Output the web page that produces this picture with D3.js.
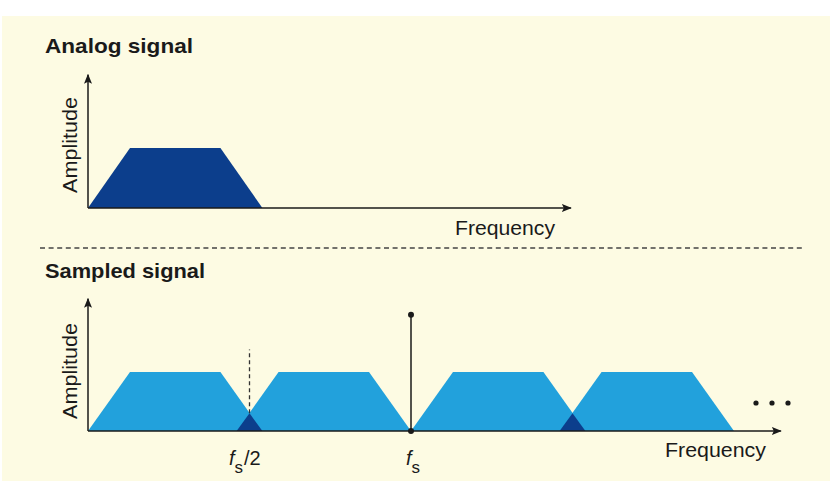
<!DOCTYPE html>
<html lang="en">
<head>
<meta charset="UTF-8">
<title>Analog vs sampled signal spectrum</title>
<script src="https://d3js.org/d3.v7.min.js"></script>
<style>
  body { margin: 0; background: #fff; }
  text { font-family: "Liberation Sans", Arial, sans-serif; fill: #1a1a1a; }
  .title { font-weight: bold; font-size: 21px; }
  .lbl { font-size: 20px; }
  .sym { font-size: 20px; font-style: italic; }
</style>
</head>
<body>
<script>
// spectrum of the analog signal, frequency in units of fs, amplitude 0..1
const baseFreq = [0, 0.13, 0.41, 0.54]
const baseAmp  = [0, 1, 1, 0]

// spectral copies of the sampled signal (band corners, in units of fs)
const imageFreqs = [
  [0, 0.13, 0.41, 0.54],
  [0.46, 0.59, 0.87, 1.0],
  [1.0, 1.13, 1.41, 1.54],
  [1.46, 1.59, 1.87, 2.0]
]
const imageAmp = [0, 1, 1, 0]

// aliasing overlaps: [left, centre, right] and peak amplitude
const aliasFreqs = [[0.46, 0.5, 0.54], [1.46, 1.5, 1.54]]
const aliasPeak = 0.3

const sampleRate = 1      // fs
const stemHeight = 1.97   // height of the fs impulse

const W = 830, H = 481
const svg = d3.select("body").append("svg")
    .attr("width", W).attr("height", H)

// paper
svg.append("rect").attr("x", 2).attr("y", 16).attr("width", W - 2).attr("height", H - 16)
    .attr("fill", "#fdfbe3")

const defs = svg.append("defs")
defs.append("marker")
    .attr("id", "arrow")
    .attr("viewBox", "0 0 10 8")
    .attr("refX", 9).attr("refY", 4)
    .attr("markerWidth", 10).attr("markerHeight", 8)
    .attr("markerUnits", "userSpaceOnUse")
    .attr("orient", "auto")
  .append("path")
    .attr("d", "M0,0 L10,4 L0,8 L2,4 Z")
    .attr("fill", "#1a1a1a")

const x = d3.scaleLinear().domain([0, 1]).range([88, 411])
const yTop = d3.scaleLinear().domain([0, 1]).range([208, 148])
const yBot = d3.scaleLinear().domain([0, 1]).range([431, 372])

const area = (ys) => d3.line().x(d => x(d[0])).y(d => ys(d[1]))

// ---------- analog panel ----------
svg.append("text").attr("class", "title")
    .attr("x", 45).attr("y", 53)
    .attr("textLength", 148).attr("lengthAdjust", "spacingAndGlyphs")
    .text("Analog signal")

svg.append("path")
    .datum(d3.zip(baseFreq, baseAmp))
    .attr("d", d => area(yTop)(d) + "Z")
    .attr("fill", "#0c3e8c")

function axes(ys, xEnd, yEnd) {
  svg.append("line")
      .attr("x1", x(0)).attr("y1", ys(0)).attr("x2", x(xEnd)).attr("y2", ys(0))
      .attr("stroke", "#1a1a1a").attr("stroke-width", 1.5)
      .attr("marker-end", "url(#arrow)")
  svg.append("line")
      .attr("x1", x(0)).attr("y1", ys(0)).attr("x2", x(0)).attr("y2", ys(yEnd))
      .attr("stroke", "#1a1a1a").attr("stroke-width", 1.5)
      .attr("marker-end", "url(#arrow)")
}
axes(yTop, 1.495, 2.22)

svg.append("text").attr("class", "lbl")
    .attr("transform", `translate(77, ${yTop(0) - 15}) rotate(-90)`)
    .attr("textLength", 96).attr("lengthAdjust", "spacingAndGlyphs")
    .text("Amplitude")

svg.append("text").attr("class", "lbl")
    .attr("x", 455).attr("y", 235)
    .attr("textLength", 100).attr("lengthAdjust", "spacingAndGlyphs")
    .text("Frequency")

// separator
svg.append("line")
    .attr("x1", 40).attr("x2", 802).attr("y1", 248).attr("y2", 248)
    .attr("stroke", "#444").attr("stroke-width", 1.4)
    .attr("stroke-dasharray", "5,3.6")

// ---------- sampled panel ----------
svg.append("text").attr("class", "title")
    .attr("x", 45).attr("y", 278)
    .attr("textLength", 160).attr("lengthAdjust", "spacingAndGlyphs")
    .text("Sampled signal")

svg.selectAll(".image")
    .data(imageFreqs)
    .enter().append("path")
    .attr("class", "image")
    .attr("d", f => area(yBot)(d3.zip(f, imageAmp)) + "Z")
    .attr("fill", "#22a1dc")

svg.selectAll(".alias")
    .data(aliasFreqs)
    .enter().append("path")
    .attr("class", "alias")
    .attr("d", f => area(yBot)([[f[0], 0], [f[1], aliasPeak], [f[2], 0]]) + "Z")
    .attr("fill", "#0c3e8c")

axes(yBot, 2.145, 2.24)

// fs/2 dashed marker
svg.append("line")
    .attr("x1", x(sampleRate / 2)).attr("x2", x(sampleRate / 2))
    .attr("y1", yBot(aliasPeak)).attr("y2", yBot(1.38))
    .attr("stroke", "#333").attr("stroke-width", 1.3)
    .attr("stroke-dasharray", "4,3")

// fs impulse
svg.append("line")
    .attr("x1", x(sampleRate)).attr("x2", x(sampleRate))
    .attr("y1", yBot(0)).attr("y2", yBot(stemHeight))
    .attr("stroke", "#1a1a1a").attr("stroke-width", 1.5)
svg.selectAll(".stemdot")
    .data([0, stemHeight])
    .enter().append("circle")
    .attr("cx", x(sampleRate)).attr("cy", d => yBot(d)).attr("r", 3)
    .attr("fill", "#1a1a1a")

// ellipsis
svg.selectAll(".ell")
    .data([756, 772, 788])
    .enter().append("circle")
    .attr("cx", d => d).attr("cy", 403).attr("r", 2.6)
    .attr("fill", "#1a1a1a")

svg.append("text").attr("class", "lbl")
    .attr("transform", `translate(77, ${yBot(0) - 12}) rotate(-90)`)
    .attr("textLength", 96).attr("lengthAdjust", "spacingAndGlyphs")
    .text("Amplitude")

svg.append("text").attr("class", "lbl")
    .attr("x", 665).attr("y", 457)
    .attr("textLength", 101).attr("lengthAdjust", "spacingAndGlyphs")
    .text("Frequency")

// frequency markers
function fLabel(cx, suffix) {
  const t = svg.append("text").attr("class", "sym").attr("x", cx).attr("y", 465)
  t.append("tspan").text("f")
  t.append("tspan").attr("dy", 8).attr("font-size", 17).style("font-style", "normal").text("s")
  if (suffix) t.append("tspan").attr("dy", -8).attr("dx", 1).style("font-style", "normal").text(suffix)
}
fLabel(229, "/2")
fLabel(406, null)
</script>
</body>
</html>
